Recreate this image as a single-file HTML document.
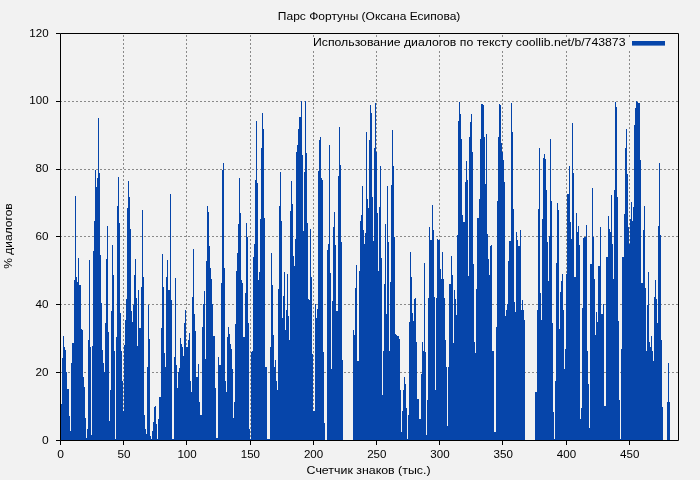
<!DOCTYPE html>
<html><head><meta charset="utf-8"><style>
html,body{margin:0;padding:0;background:#f2f2f2;}
svg{display:block;will-change:transform;font-family:"Liberation Sans",sans-serif;font-size:11px;fill:#000;}
</style></head><body>
<svg width="700" height="480" viewBox="0 0 700 480">
<rect width="700" height="480" fill="#f2f2f2"/>
<g stroke="#8a8a8a" stroke-width="1" stroke-dasharray="2 2" fill="none"><line x1="123.5" y1="441" x2="123.5" y2="34" /><line x1="186.5" y1="441" x2="186.5" y2="34" /><line x1="250.5" y1="441" x2="250.5" y2="34" /><line x1="313.5" y1="441" x2="313.5" y2="34" /><line x1="376.5" y1="441" x2="376.5" y2="34" /><line x1="439.5" y1="441" x2="439.5" y2="34" /><line x1="502.5" y1="441" x2="502.5" y2="34" /><line x1="566.5" y1="441" x2="566.5" y2="34" /><line x1="629.5" y1="441" x2="629.5" y2="34" /><line x1="60" y1="372.5" x2="678" y2="372.5" /><line x1="60" y1="304.5" x2="678" y2="304.5" /><line x1="60" y1="236.5" x2="678" y2="236.5" /><line x1="60" y1="169.5" x2="678" y2="169.5" /><line x1="60" y1="101.5" x2="678" y2="101.5" /></g>
<rect x="305" y="37" width="368" height="14" fill="#f2f2f2"/>
<path d="M61 403.8V440.4h1V403.8zM62 357.9V440.4h1V357.9zM63 335.9V440.4h1V335.9zM64 347.3V440.4h1V347.3zM65 349.6V440.4h1V349.6zM66 371.7V440.4h1V371.7zM67 388.9V440.4h1V388.9zM68 388.9V440.4h1V388.9zM69 416.4V440.4h1V416.4zM70 431.3V440.4h1V431.3zM71 362.5V440.4h1V362.5zM72 343.0V440.4h1V343.0zM73 342.7V440.4h1V342.7zM74 279.7V440.4h1V279.7zM75 196.0V440.4h1V196.0zM76 277.4V440.4h1V277.4zM77 282.0V440.4h1V282.0zM78 257.9V440.4h1V257.9zM79 285.4V440.4h1V285.4zM80 285.0V440.4h1V285.0zM81 329.0V440.4h1V329.0zM82 330.1V440.4h1V330.1zM83 377.4V440.4h1V377.4zM84 386.6V440.4h1V386.6zM85 417.5V440.4h1V417.5zM86 438.2V440.4h1V438.2zM87 429.0V440.4h1V429.0zM88 340.4V440.4h1V340.4zM89 259.5V440.4h1V259.5zM90 347.3V440.4h1V347.3zM91 434.7V440.4h1V434.7zM92 346.2V440.4h1V346.2zM93 251.0V440.4h1V251.0zM94 221.0V440.4h1V221.0zM95 170.1V440.4h1V170.1zM96 186.6V440.4h1V186.6zM97 178.1V440.4h1V178.1zM98 118.0V440.4h1V118.0zM99 173.1V440.4h1V173.1zM100 254.5V440.4h1V254.5zM101 302.6V440.4h1V302.6zM102 349.6V440.4h1V349.6zM103 362.5V440.4h1V362.5zM104 371.7V440.4h1V371.7zM105 323.3V440.4h1V323.3zM106 259.1V440.4h1V259.1zM107 225.8V440.4h1V225.8zM108 332.4V440.4h1V332.4zM109 421.0V440.4h1V421.0zM110 390.0V440.4h1V390.0zM111 310.6V440.4h1V310.6zM112 244.8V440.4h1V244.8zM113 275.1V440.4h1V275.1zM114 350.8V440.4h1V350.8zM115 439.3V440.4h1V439.3zM116 337.0V440.4h1V337.0zM117 206.1V440.4h1V206.1zM118 177.0V440.4h1V177.0zM119 223.3V440.4h1V223.3zM120 312.9V440.4h1V312.9zM121 350.8V440.4h1V350.8zM122 380.9V440.4h1V380.9zM123 410.7V440.4h1V410.7zM124 345.0V440.4h1V345.0zM125 320.0V440.4h1V320.0zM126 299.2V440.4h1V299.2zM127 207.9V440.4h1V207.9zM128 180.9V440.4h1V180.9zM129 197.2V440.4h1V197.2zM130 229.3V440.4h1V229.3zM131 310.6V440.4h1V310.6zM132 322.1V440.4h1V322.1zM133 304.9V440.4h1V304.9zM134 275.1V440.4h1V275.1zM135 259.1V440.4h1V259.1zM136 298.0V440.4h1V298.0zM137 346.2V440.4h1V346.2zM138 290.0V440.4h1V290.0zM139 327.8V440.4h1V327.8zM140 327.8V440.4h1V327.8zM141 286.6V440.4h1V286.6zM142 209.8V440.4h1V209.8zM143 277.4V440.4h1V277.4zM144 415.3V440.4h1V415.3zM145 429.0V440.4h1V429.0zM146 433.6V440.4h1V433.6zM147 367.1V440.4h1V367.1zM148 304.9V440.4h1V304.9zM149 339.3V440.4h1V339.3zM150 435.9V440.4h1V435.9zM151 439.3V440.4h1V439.3zM152 431.3V440.4h1V431.3zM153 422.1V440.4h1V422.1zM154 407.2V440.4h1V407.2zM155 406.1V440.4h1V406.1zM156 424.4V440.4h1V424.4zM157 439.3V440.4h1V439.3zM158 418.7V440.4h1V418.7zM159 396.9V440.4h1V396.9zM160 396.9V440.4h1V396.9zM161 327.8V440.4h1V327.8zM162 254.0V440.4h1V254.0zM163 286.6V440.4h1V286.6zM164 353.0V440.4h1V353.0zM165 367.0V440.4h1V367.0zM166 276.9V440.4h1V276.9zM167 259.5V440.4h1V259.5zM168 290.0V440.4h1V290.0zM169 290.0V440.4h1V290.0zM170 193.7V440.4h1V193.7zM171 300.3V440.4h1V300.3zM172 439.3V440.4h1V439.3zM173 439.3V440.4h1V439.3zM174 356.8V440.4h1V356.8zM175 277.9V440.4h1V277.9zM176 364.8V440.4h1V364.8zM177 387.7V440.4h1V387.7zM178 371.7V440.4h1V371.7zM179 368.2V440.4h1V368.2zM180 338.2V440.4h1V338.2zM181 343.9V440.4h1V343.9zM182 346.5V440.4h1V346.5zM183 355.6V440.4h1V355.6zM184 323.3V440.4h1V323.3zM185 310.2V440.4h1V310.2zM186 347.3V440.4h1V347.3zM187 347.3V440.4h1V347.3zM188 340.4V440.4h1V340.4zM189 333.1V440.4h1V333.1zM190 380.9V440.4h1V380.9zM191 392.3V440.4h1V392.3zM192 296.9V440.4h1V296.9zM193 248.7V440.4h1V248.7zM194 314.1V440.4h1V314.1zM195 331.3V440.4h1V331.3zM196 377.4V440.4h1V377.4zM197 377.4V440.4h1V377.4zM198 363.7V440.4h1V363.7zM199 401.5V440.4h1V401.5zM200 415.3V440.4h1V415.3zM201 415.3V440.4h1V415.3zM202 327.4V440.4h1V327.4zM203 303.8V440.4h1V303.8zM204 291.2V440.4h1V291.2zM205 359.1V440.4h1V359.1zM206 261.3V440.4h1V261.3zM207 205.9V440.4h1V205.9zM208 212.1V440.4h1V212.1zM209 246.2V440.4h1V246.2zM210 268.2V440.4h1V268.2zM211 278.5V440.4h1V278.5zM212 303.8V440.4h1V303.8zM213 335.9V440.4h1V335.9zM214 335.9V440.4h1V335.9zM215 387.7V440.4h1V387.7zM216 438.2V440.4h1V438.2zM217 438.2V440.4h1V438.2zM218 356.8V440.4h1V356.8zM219 364.8V440.4h1V364.8zM220 364.8V440.4h1V364.8zM221 283.1V440.4h1V283.1zM222 170.1V440.4h1V170.1zM223 163.2V440.4h1V163.2zM224 268.2V440.4h1V268.2zM225 380.9V440.4h1V380.9zM226 392.3V440.4h1V392.3zM227 337.0V440.4h1V337.0zM228 326.7V440.4h1V326.7zM229 333.6V440.4h1V333.6zM230 343.9V440.4h1V343.9zM231 348.8V440.4h1V348.8zM232 369.4V440.4h1V369.4zM233 417.5V440.4h1V417.5zM234 401.5V440.4h1V401.5zM235 324.4V440.4h1V324.4zM236 270.5V440.4h1V270.5zM237 253.3V440.4h1V253.3zM238 224.0V440.4h1V224.0zM239 178.1V440.4h1V178.1zM240 212.5V440.4h1V212.5zM241 279.7V440.4h1V279.7zM242 283.1V440.4h1V283.1zM243 337.0V440.4h1V337.0zM244 337.0V440.4h1V337.0zM245 293.4V440.4h1V293.4zM246 222.8V440.4h1V222.8zM247 237.1V440.4h1V237.1zM248 323.3V440.4h1V323.3zM249 429.0V440.4h1V429.0zM250 439.0V440.4h1V439.0zM251 352.2V440.4h1V352.2zM252 350.8V440.4h1V350.8zM253 256.8V440.4h1V256.8zM254 244.1V440.4h1V244.1zM255 180.4V440.4h1V180.4zM256 120.8V440.4h1V120.8zM257 182.7V440.4h1V182.7zM258 279.7V440.4h1V279.7zM259 271.7V440.4h1V271.7zM260 219.4V440.4h1V219.4zM261 148.3V440.4h1V148.3zM262 113.3V440.4h1V113.3zM263 128.8V440.4h1V128.8zM264 218.3V440.4h1V218.3zM265 367.1V440.4h1V367.1zM266 367.1V440.4h1V367.1zM267 439.3V440.4h1V439.3zM268 439.3V440.4h1V439.3zM269 439.3V440.4h1V439.3zM270 347.3V440.4h1V347.3zM271 253.3V440.4h1V253.3zM272 285.4V440.4h1V285.4zM273 334.7V440.4h1V334.7zM274 367.1V440.4h1V367.1zM275 360.2V440.4h1V360.2zM276 380.9V440.4h1V380.9zM277 390.0V440.4h1V390.0zM278 288.9V440.4h1V288.9zM279 205.6V440.4h1V205.6zM280 171.9V440.4h1V171.9zM281 221.0V440.4h1V221.0zM282 317.5V440.4h1V317.5zM283 295.7V440.4h1V295.7zM284 271.7V440.4h1V271.7zM285 330.1V440.4h1V330.1zM286 309.5V440.4h1V309.5zM287 274.0V440.4h1V274.0zM288 316.4V440.4h1V316.4zM289 340.4V440.4h1V340.4zM290 210.9V440.4h1V210.9zM291 180.9V440.4h1V180.9zM292 204.0V440.4h1V204.0zM293 255.6V440.4h1V255.6zM294 265.9V440.4h1V265.9zM295 238.9V440.4h1V238.9zM296 151.8V440.4h1V151.8zM297 144.9V440.4h1V144.9zM298 128.8V440.4h1V128.8zM299 117.1V440.4h1V117.1zM300 117.1V440.4h1V117.1zM301 101.3V440.4h1V101.3zM302 155.2V440.4h1V155.2zM303 230.9V440.4h1V230.9zM304 172.4V440.4h1V172.4zM305 101.3V440.4h1V101.3zM306 152.9V440.4h1V152.9zM307 222.8V440.4h1V222.8zM308 299.2V440.4h1V299.2zM309 300.0V440.4h1V300.0zM310 228.6V440.4h1V228.6zM311 277.4V440.4h1V277.4zM312 354.0V440.4h1V354.0zM313 411.0V440.4h1V411.0zM314 411.0V440.4h1V411.0zM315 304.0V440.4h1V304.0zM316 318.0V440.4h1V318.0zM317 309.0V440.4h1V309.0zM318 171.2V440.4h1V171.2zM319 139.6V440.4h1V139.6zM320 136.9V440.4h1V136.9zM321 178.1V440.4h1V178.1zM322 180.0V440.4h1V180.0zM323 352.0V440.4h1V352.0zM324 423.0V440.4h1V423.0zM327 250.0V440.4h1V250.0zM328 244.1V440.4h1V244.1zM329 144.9V440.4h1V144.9zM330 272.8V440.4h1V272.8zM331 369.0V440.4h1V369.0zM332 301.0V440.4h1V301.0zM333 227.4V440.4h1V227.4zM334 211.8V440.4h1V211.8zM335 244.6V440.4h1V244.6zM336 310.6V440.4h1V310.6zM337 310.6V440.4h1V310.6zM338 175.8V440.4h1V175.8zM339 127.0V440.4h1V127.0zM340 165.1V440.4h1V165.1zM341 242.3V440.4h1V242.3zM342 360.2V440.4h1V360.2zM353 330.0V440.4h1V330.0zM354 334.7V440.4h1V334.7zM355 287.7V440.4h1V287.7zM356 264.8V440.4h1V264.8zM357 361.0V440.4h1V361.0zM358 361.4V440.4h1V361.4zM359 270.5V440.4h1V270.5zM360 220.5V440.4h1V220.5zM361 214.8V440.4h1V214.8zM362 186.2V440.4h1V186.2zM363 229.7V440.4h1V229.7zM364 243.5V440.4h1V243.5zM365 233.2V440.4h1V233.2zM366 132.1V440.4h1V132.1zM367 198.8V440.4h1V198.8zM368 207.9V440.4h1V207.9zM369 139.6V440.4h1V139.6zM370 105.2V440.4h1V105.2zM371 113.3V440.4h1V113.3zM372 197.2V440.4h1V197.2zM373 241.2V440.4h1V241.2zM374 148.3V440.4h1V148.3zM375 102.9V440.4h1V102.9zM376 151.8V440.4h1V151.8zM377 212.5V440.4h1V212.5zM378 270.5V440.4h1V270.5zM379 206.8V440.4h1V206.8zM380 166.0V440.4h1V166.0zM381 257.9V440.4h1V257.9zM382 394.6V440.4h1V394.6zM383 350.8V440.4h1V350.8zM384 284.3V440.4h1V284.3zM385 224.0V440.4h1V224.0zM386 314.1V440.4h1V314.1zM387 186.2V440.4h1V186.2zM388 242.3V440.4h1V242.3zM389 350.8V440.4h1V350.8zM390 282.0V440.4h1V282.0zM391 185.0V440.4h1V185.0zM392 130.0V440.4h1V130.0zM393 166.0V440.4h1V166.0zM394 236.6V440.4h1V236.6zM395 333.6V440.4h1V333.6zM396 334.7V440.4h1V334.7zM397 335.9V440.4h1V335.9zM398 335.9V440.4h1V335.9zM399 339.3V440.4h1V339.3zM400 390.0V440.4h1V390.0zM401 432.4V440.4h1V432.4zM402 410.7V440.4h1V410.7zM403 390.0V440.4h1V390.0zM404 377.4V440.4h1V377.4zM405 384.3V440.4h1V384.3zM406 408.4V440.4h1V408.4zM407 439.3V440.4h1V439.3zM408 415.3V440.4h1V415.3zM409 322.1V440.4h1V322.1zM410 252.2V440.4h1V252.2zM411 277.4V440.4h1V277.4zM412 312.9V440.4h1V312.9zM413 321.0V440.4h1V321.0zM414 299.2V440.4h1V299.2zM415 298.0V440.4h1V298.0zM416 341.6V440.4h1V341.6zM417 399.2V440.4h1V399.2zM418 399.2V440.4h1V399.2zM419 418.7V440.4h1V418.7zM420 418.7V440.4h1V418.7zM421 374.0V440.4h1V374.0zM422 341.9V440.4h1V341.9zM423 350.8V440.4h1V350.8zM424 263.2V440.4h1V263.2zM425 352.2V440.4h1V352.2zM426 434.8V440.4h1V434.8zM427 400.0V440.4h1V400.0zM428 298.0V440.4h1V298.0zM429 227.0V440.4h1V227.0zM430 240.0V440.4h1V240.0zM431 240.0V440.4h1V240.0zM432 205.0V440.4h1V205.0zM433 229.7V440.4h1V229.7zM434 296.9V440.4h1V296.9zM435 390.0V440.4h1V390.0zM436 298.0V440.4h1V298.0zM437 238.9V440.4h1V238.9zM438 240.0V440.4h1V240.0zM439 240.0V440.4h1V240.0zM440 269.4V440.4h1V269.4zM441 278.5V440.4h1V278.5zM442 252.2V440.4h1V252.2zM443 278.5V440.4h1V278.5zM444 298.0V440.4h1V298.0zM445 339.6V440.4h1V339.6zM446 367.1V440.4h1V367.1zM447 425.6V440.4h1V425.6zM448 367.1V440.4h1V367.1zM449 284.3V440.4h1V284.3zM450 284.3V440.4h1V284.3zM451 255.6V440.4h1V255.6zM452 275.1V440.4h1V275.1zM453 342.7V440.4h1V342.7zM454 290.0V440.4h1V290.0zM455 299.2V440.4h1V299.2zM456 315.2V440.4h1V315.2zM457 235.4V440.4h1V235.4zM458 121.3V440.4h1V121.3zM459 101.8V440.4h1V101.8zM460 114.4V440.4h1V114.4zM461 138.5V440.4h1V138.5zM462 214.8V440.4h1V214.8zM463 221.7V440.4h1V221.7zM464 221.7V440.4h1V221.7zM465 182.3V440.4h1V182.3zM466 160.9V440.4h1V160.9zM467 180.4V440.4h1V180.4zM468 276.2V440.4h1V276.2zM469 137.3V440.4h1V137.3zM470 122.4V440.4h1V122.4zM471 113.7V440.4h1V113.7zM472 151.8V440.4h1V151.8zM473 263.6V440.4h1V263.6zM474 341.6V440.4h1V341.6zM475 353.1V440.4h1V353.1zM476 288.9V440.4h1V288.9zM477 218.3V440.4h1V218.3zM478 218.3V440.4h1V218.3zM479 198.8V440.4h1V198.8zM480 138.9V440.4h1V138.9zM481 104.1V440.4h1V104.1zM482 103.6V440.4h1V103.6zM483 104.5V440.4h1V104.5zM484 137.3V440.4h1V137.3zM485 183.9V440.4h1V183.9zM486 133.9V440.4h1V133.9zM487 234.3V440.4h1V234.3zM488 259.1V440.4h1V259.1zM489 275.1V440.4h1V275.1zM490 246.4V440.4h1V246.4zM491 244.6V440.4h1V244.6zM492 350.8V440.4h1V350.8zM493 350.8V440.4h1V350.8zM494 432.4V440.4h1V432.4zM495 432.4V440.4h1V432.4zM496 326.7V440.4h1V326.7zM497 201.1V440.4h1V201.1zM498 137.3V440.4h1V137.3zM499 104.1V440.4h1V104.1zM500 105.2V440.4h1V105.2zM501 142.6V440.4h1V142.6zM502 151.8V440.4h1V151.8zM503 159.8V440.4h1V159.8zM504 181.6V440.4h1V181.6zM505 316.4V440.4h1V316.4zM506 309.5V440.4h1V309.5zM507 303.8V440.4h1V303.8zM508 261.3V440.4h1V261.3zM509 241.2V440.4h1V241.2zM510 241.2V440.4h1V241.2zM511 102.9V440.4h1V102.9zM512 132.1V440.4h1V132.1zM513 209.1V440.4h1V209.1zM514 301.5V440.4h1V301.5zM515 311.8V440.4h1V311.8zM516 232.0V440.4h1V232.0zM517 240.0V440.4h1V240.0zM518 245.8V440.4h1V245.8zM519 245.8V440.4h1V245.8zM520 229.7V440.4h1V229.7zM521 309.5V440.4h1V309.5zM522 300.0V440.4h1V300.0zM523 309.5V440.4h1V309.5zM524 320.0V440.4h1V320.0zM535 392.3V440.4h1V392.3zM536 392.3V440.4h1V392.3zM537 309.5V440.4h1V309.5zM538 209.1V440.4h1V209.1zM539 147.9V440.4h1V147.9zM540 293.4V440.4h1V293.4zM541 319.8V440.4h1V319.8zM542 219.4V440.4h1V219.4zM543 157.5V440.4h1V157.5zM544 154.1V440.4h1V154.1zM545 158.6V440.4h1V158.6zM546 190.3V440.4h1V190.3zM547 242.3V440.4h1V242.3zM548 280.8V440.4h1V280.8zM549 236.1V440.4h1V236.1zM550 138.9V440.4h1V138.9zM551 201.1V440.4h1V201.1zM552 323.3V440.4h1V323.3zM553 411.8V440.4h1V411.8zM554 439.3V440.4h1V439.3zM555 380.9V440.4h1V380.9zM556 262.5V440.4h1V262.5zM557 202.9V440.4h1V202.9zM558 210.2V440.4h1V210.2zM559 329.0V440.4h1V329.0zM560 292.3V440.4h1V292.3zM561 280.8V440.4h1V280.8zM562 274.0V440.4h1V274.0zM563 309.5V440.4h1V309.5zM564 369.4V440.4h1V369.4zM565 348.5V440.4h1V348.5zM566 274.0V440.4h1V274.0zM567 194.2V440.4h1V194.2zM568 194.2V440.4h1V194.2zM569 166.0V440.4h1V166.0zM570 221.7V440.4h1V221.7zM571 238.9V440.4h1V238.9zM572 123.1V440.4h1V123.1zM573 172.9V440.4h1V172.9zM574 277.4V440.4h1V277.4zM575 277.4V440.4h1V277.4zM576 213.2V440.4h1V213.2zM577 231.6V440.4h1V231.6zM578 226.3V440.4h1V226.3zM579 244.6V440.4h1V244.6zM580 419.0V440.4h1V419.0zM581 408.4V440.4h1V408.4zM582 308.3V440.4h1V308.3zM583 237.7V440.4h1V237.7zM584 236.6V440.4h1V236.6zM585 236.6V440.4h1V236.6zM586 225.1V440.4h1V225.1zM587 350.8V440.4h1V350.8zM588 384.3V440.4h1V384.3zM589 427.9V440.4h1V427.9zM590 263.6V440.4h1V263.6zM591 263.6V440.4h1V263.6zM592 188.0V440.4h1V188.0zM593 236.6V440.4h1V236.6zM594 278.5V440.4h1V278.5zM595 334.7V440.4h1V334.7zM596 311.8V440.4h1V311.8zM597 322.1V440.4h1V322.1zM598 265.9V440.4h1V265.9zM599 265.9V440.4h1V265.9zM600 227.0V440.4h1V227.0zM601 314.1V440.4h1V314.1zM602 314.1V440.4h1V314.1zM603 303.8V440.4h1V303.8zM604 406.1V440.4h1V406.1zM605 406.1V440.4h1V406.1zM606 256.8V440.4h1V256.8zM607 256.8V440.4h1V256.8zM608 216.0V440.4h1V216.0zM609 228.6V440.4h1V228.6zM610 232.0V440.4h1V232.0zM611 195.3V440.4h1V195.3zM612 243.5V440.4h1V243.5zM613 278.5V440.4h1V278.5zM614 189.6V440.4h1V189.6zM615 101.8V440.4h1V101.8zM616 106.8V440.4h1V106.8zM617 197.2V440.4h1V197.2zM618 321.0V440.4h1V321.0zM619 400.3V440.4h1V400.3zM620 439.3V440.4h1V439.3zM621 348.8V440.4h1V348.8zM622 256.8V440.4h1V256.8zM623 256.8V440.4h1V256.8zM624 213.7V440.4h1V213.7zM625 148.3V440.4h1V148.3zM626 128.8V440.4h1V128.8zM627 173.5V440.4h1V173.5zM628 227.4V440.4h1V227.4zM629 243.5V440.4h1V243.5zM630 219.4V440.4h1V219.4zM631 202.2V440.4h1V202.2zM632 220.5V440.4h1V220.5zM633 206.8V440.4h1V206.8zM634 125.2V440.4h1V125.2zM635 108.2V440.4h1V108.2zM636 101.3V440.4h1V101.3zM637 101.8V440.4h1V101.8zM638 102.9V440.4h1V102.9zM639 103.4V440.4h1V103.4zM640 159.8V440.4h1V159.8zM641 283.1V440.4h1V283.1zM642 283.1V440.4h1V283.1zM643 229.7V440.4h1V229.7zM644 206.1V440.4h1V206.1zM645 287.7V440.4h1V287.7zM646 350.8V440.4h1V350.8zM647 304.9V440.4h1V304.9zM648 271.7V440.4h1V271.7zM649 341.6V440.4h1V341.6zM650 347.3V440.4h1V347.3zM651 335.9V440.4h1V335.9zM652 350.8V440.4h1V350.8zM653 361.4V440.4h1V361.4zM654 296.9V440.4h1V296.9zM655 279.7V440.4h1V279.7zM656 299.2V440.4h1V299.2zM657 323.3V440.4h1V323.3zM658 226.3V440.4h1V226.3zM659 163.2V440.4h1V163.2zM660 235.4V440.4h1V235.4zM661 340.4V440.4h1V340.4zM662 407.2V440.4h1V407.2zM667 401.5V440.4h1V401.5zM668 362.5V440.4h1V362.5zM669 401.5V440.4h1V401.5z" fill="#0645aa" shape-rendering="crispEdges"/>
<path d="M60.5 33.5V440.5H678.5V33.5Z" fill="none" stroke="#000" stroke-width="1"/>
<path d="M60.5 440.5V445M123.5 440.5V445M186.5 440.5V445M250.5 440.5V445M313.5 440.5V445M376.5 440.5V445M439.5 440.5V445M502.5 440.5V445M566.5 440.5V445M629.5 440.5V445M56 440.5H60.5M56 372.5H60.5M56 304.5H60.5M56 236.5H60.5M56 169.5H60.5M56 101.5H60.5M56 33.5H60.5" stroke="#000" stroke-width="1"/>
<g><text x="60.7" y="457.7" text-anchor="middle" textLength="6.7" lengthAdjust="spacingAndGlyphs">0</text><text x="123.9" y="457.7" text-anchor="middle" textLength="13.0" lengthAdjust="spacingAndGlyphs">50</text><text x="187.1" y="457.7" text-anchor="middle" textLength="19.3" lengthAdjust="spacingAndGlyphs">100</text><text x="250.4" y="457.7" text-anchor="middle" textLength="19.3" lengthAdjust="spacingAndGlyphs">150</text><text x="313.6" y="457.7" text-anchor="middle" textLength="19.3" lengthAdjust="spacingAndGlyphs">200</text><text x="376.8" y="457.7" text-anchor="middle" textLength="19.3" lengthAdjust="spacingAndGlyphs">250</text><text x="440.0" y="457.7" text-anchor="middle" textLength="19.3" lengthAdjust="spacingAndGlyphs">300</text><text x="503.2" y="457.7" text-anchor="middle" textLength="19.3" lengthAdjust="spacingAndGlyphs">350</text><text x="566.5" y="457.7" text-anchor="middle" textLength="19.3" lengthAdjust="spacingAndGlyphs">400</text><text x="629.7" y="457.7" text-anchor="middle" textLength="19.3" lengthAdjust="spacingAndGlyphs">450</text><text x="48.6" y="443.6" text-anchor="end" textLength="6.7" lengthAdjust="spacingAndGlyphs">0</text><text x="48.6" y="375.7" text-anchor="end" textLength="13.0" lengthAdjust="spacingAndGlyphs">20</text><text x="48.6" y="307.9" text-anchor="end" textLength="13.0" lengthAdjust="spacingAndGlyphs">40</text><text x="48.6" y="240.0" text-anchor="end" textLength="13.0" lengthAdjust="spacingAndGlyphs">60</text><text x="48.6" y="172.2" text-anchor="end" textLength="13.0" lengthAdjust="spacingAndGlyphs">80</text><text x="48.6" y="104.3" text-anchor="end" textLength="19.3" lengthAdjust="spacingAndGlyphs">100</text><text x="48.6" y="36.5" text-anchor="end" textLength="19.3" lengthAdjust="spacingAndGlyphs">120</text></g>
<text x="369.1" y="20" text-anchor="middle" id="title" textLength="182.5" lengthAdjust="spacingAndGlyphs">Парс Фортуны (Оксана Есипова)</text>
<text x="313" y="45.7" id="legend" textLength="312.5" lengthAdjust="spacingAndGlyphs">Использование диалогов по тексту coollib.net/b/743873</text>
<rect x="632" y="41" width="33" height="4.6" fill="#0645aa"/>
<text x="368.6" y="474" text-anchor="middle" id="xlabel" textLength="124" lengthAdjust="spacingAndGlyphs">Счетчик знаков (тыс.)</text>
<text transform="translate(12,236) rotate(-90)" text-anchor="middle" id="ylabel" textLength="65.5" lengthAdjust="spacingAndGlyphs">% диалогов</text>
</svg></body></html>
